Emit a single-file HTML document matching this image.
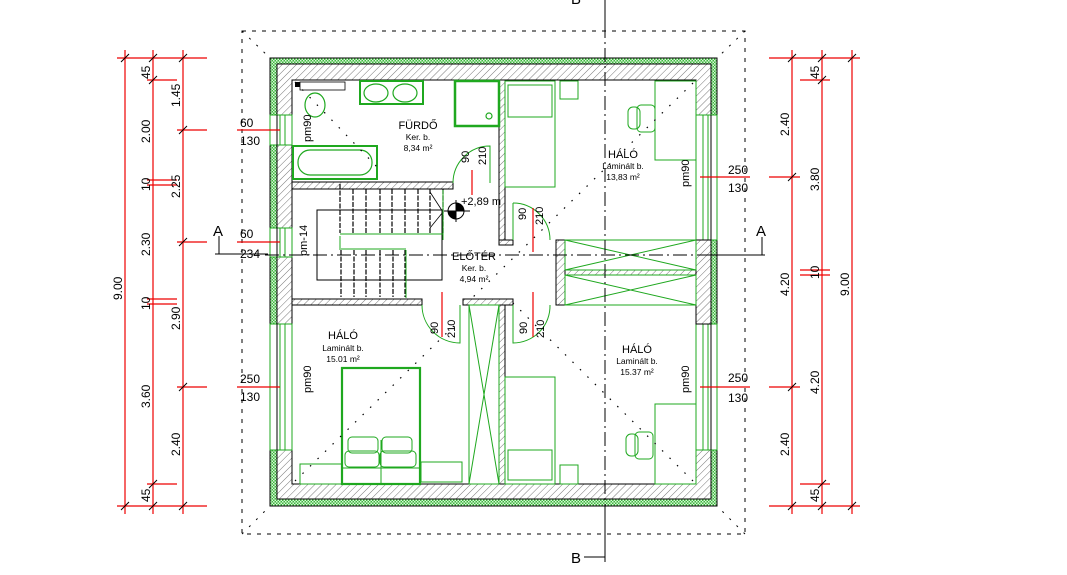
<!DOCTYPE html>
<html><head><meta charset="utf-8"><style>
html,body{margin:0;padding:0;background:#fff;}
svg{display:block;font-family:"Liberation Sans",sans-serif;}
</style></head><body>
<svg width="1067" height="575" viewBox="0 0 1067 575" xmlns="http://www.w3.org/2000/svg">
<defs>
<pattern id="h" width="5" height="5" patternUnits="userSpaceOnUse" patternTransform="rotate(45)">
<rect width="5" height="5" fill="#fff"/><line x1="0" y1="0" x2="0" y2="5" stroke="#555" stroke-width="0.8"/></pattern>
<pattern id="g" width="3" height="3" patternUnits="userSpaceOnUse">
<rect width="3" height="3" fill="#3cb83c"/><rect width="1.5" height="1.5" fill="#d8f5d8"/><rect x="1.5" y="1.5" width="1.5" height="1.5" fill="#d8f5d8"/></pattern>
</defs>

<rect x="242" y="31" width="503" height="503" fill="none" stroke="#000" stroke-width="1" stroke-dasharray="4,6"/>
<g stroke="#000" stroke-dasharray="2,8" stroke-width="1">
<line x1="242" y1="31" x2="270" y2="58"/><line x1="745" y1="31" x2="717" y2="58"/>
<line x1="242" y1="534" x2="270" y2="506"/><line x1="745" y1="534" x2="717" y2="506"/>
</g>

<rect x="270" y="58" width="447" height="448" fill="url(#g)" stroke="#000" stroke-width="1"/>
<rect x="277" y="64" width="434" height="435" fill="url(#h)" stroke="#000" stroke-width="1"/>
<rect x="292" y="80" width="404" height="404" fill="#fff" stroke="#000" stroke-width="1"/>

<g fill="#fff" stroke="#1fa81f" stroke-width="1">
<rect x="270" y="115" width="22" height="30"/><rect x="270" y="228" width="22" height="29"/><rect x="270" y="324" width="22" height="126"/>
<rect x="696" y="115" width="21" height="125"/><rect x="696" y="324" width="21" height="126"/>
</g>
<g stroke="#1fa81f" stroke-width="1">
<line x1="280" y1="115" x2="280" y2="145"/><line x1="285" y1="115" x2="285" y2="145"/>
<line x1="280" y1="228" x2="280" y2="257"/><line x1="285" y1="228" x2="285" y2="257"/>
<line x1="280" y1="324" x2="280" y2="450"/><line x1="285" y1="324" x2="285" y2="450"/>
<line x1="703" y1="115" x2="703" y2="240"/><line x1="708" y1="115" x2="708" y2="240"/>
<line x1="703" y1="324" x2="703" y2="450"/><line x1="708" y1="324" x2="708" y2="450"/>
</g>
<g stroke="#000" stroke-width="1"><line x1="277" y1="115" x2="277" y2="450"/><line x1="711" y1="115" x2="711" y2="450"/></g>

<g fill="url(#h)" stroke="#000" stroke-width="1">
<rect x="292" y="182" width="161" height="7"/>
<rect x="499" y="80" width="6" height="165"/>
<rect x="499" y="240" width="14" height="5"/>
<rect x="556" y="240" width="9" height="65"/>
<rect x="565" y="270" width="131" height="5"/>
<rect x="292" y="299" width="130" height="6"/>
<rect x="463" y="299" width="50" height="6"/>
<rect x="499" y="305" width="6" height="179"/>
<rect x="696" y="240" width="15" height="84"/>
</g>

<g fill="none" stroke="#1fa81f" stroke-width="1">
<rect x="565" y="240" width="131" height="30"/><line x1="565" y1="240" x2="696" y2="270"/><line x1="565" y1="270" x2="696" y2="240"/>
<rect x="565" y="275" width="131" height="30"/><line x1="565" y1="275" x2="696" y2="305"/><line x1="565" y1="305" x2="696" y2="275"/>
<rect x="469" y="305" width="30" height="179"/><line x1="469" y1="305" x2="499" y2="484"/><line x1="499" y1="305" x2="469" y2="484"/>
</g>

<g fill="none" stroke="#1fa81f" stroke-width="1.2">
<rect x="360" y="81" width="63" height="23" stroke-width="2"/>
<ellipse cx="376" cy="93" rx="12" ry="9"/><ellipse cx="405" cy="93" rx="12" ry="9"/>
<rect x="455" y="81" width="44" height="45" stroke-width="2.5"/>
<circle cx="489" cy="116" r="3"/>
<rect x="293" y="146" width="84" height="33" stroke-width="2"/>
<rect x="298" y="150" width="74" height="25" rx="12"/>
<ellipse cx="315" cy="105" rx="10" ry="12"/><rect x="300" y="82" width="45" height="8" stroke="#000" stroke-width="0.8"/>
</g>
<rect x="295" y="82" width="5" height="5" fill="#000"/>

<g stroke="#000" stroke-width="1.2" fill="none">
<rect x="317" y="210" width="125" height="70" stroke-width="1"/>
<g stroke-dasharray="5,1.5">
<line x1="340" y1="184" x2="340" y2="233"/><line x1="353" y1="189" x2="353" y2="233"/><line x1="366" y1="189" x2="366" y2="233"/>
<line x1="380" y1="189" x2="380" y2="233"/><line x1="392" y1="189" x2="392" y2="233"/><line x1="405" y1="189" x2="405" y2="233"/>
<line x1="418" y1="189" x2="418" y2="233"/><line x1="430" y1="189" x2="430" y2="233"/><line x1="443" y1="189" x2="443" y2="233"/>
<line x1="341" y1="250" x2="341" y2="297"/><line x1="354" y1="250" x2="354" y2="297"/><line x1="366" y1="250" x2="366" y2="297"/>
<line x1="380" y1="250" x2="380" y2="297"/><line x1="393" y1="250" x2="393" y2="297"/><line x1="405" y1="250" x2="405" y2="297"/>
</g>
<polyline points="430,192 443,212 430,228" stroke-width="0.8"/>
</g>
<g stroke="#1fa81f" stroke-width="1" fill="none">
<line x1="340" y1="234" x2="443" y2="234"/><line x1="341" y1="249" x2="406" y2="249"/>
<polyline points="340,236 340,250"/><polyline points="406,250 406,298"/><polyline points="443,190 443,240"/>
</g>

<circle cx="456" cy="211" r="8" fill="#fff" stroke="#000"/>
<path d="M456 203 A8 8 0 0 1 464 211 L456 211Z M456 211 L448 211 A8 8 0 0 0 456 219Z" fill="#000"/>
<line x1="444" y1="211" x2="470" y2="211" stroke="#000"/><line x1="456" y1="200" x2="456" y2="222" stroke="#000"/>
<text x="461" y="205" font-size="11">+2,89 m</text>

<g fill="none" stroke="#1fa81f" stroke-width="1">
<path d="M453 183 A37 37 0 0 1 490 146 L490 183"/>
<path d="M513 203 A37 37 0 0 1 550 240"/><line x1="513" y1="203" x2="513" y2="240"/>
<path d="M422 305 A38 38 0 0 0 460 343 L460 305"/>
<path d="M513 305 L513 343 A37 37 0 0 0 550 305"/>
</g>
<g stroke="#e00" stroke-width="1.2">
<line x1="472" y1="170" x2="472" y2="195"/><line x1="533" y1="208" x2="533" y2="252"/>
<line x1="442" y1="292" x2="442" y2="337"/><line x1="533" y1="292" x2="533" y2="337"/>
</g>

<g fill="none" stroke="#1fa81f" stroke-width="1">
<rect x="505" y="81" width="50" height="106"/><rect x="508" y="85" width="44" height="32"/>
<rect x="560" y="81" width="18" height="18"/>
<rect x="655" y="81" width="41" height="79"/>
<rect x="628" y="107" width="12" height="22" rx="5"/><rect x="637" y="105" width="18" height="27" rx="4"/>
<rect x="505" y="377" width="50" height="107"/><rect x="508" y="450" width="44" height="30"/>
<rect x="560" y="465" width="18" height="19"/>
<rect x="655" y="404" width="41" height="80"/>
<rect x="626" y="434" width="12" height="22" rx="5"/><rect x="635" y="432" width="18" height="27" rx="4"/>
<rect x="342" y="368" width="78" height="116" stroke-width="2.2"/>
<line x1="381" y1="440" x2="381" y2="484"/><line x1="342" y1="468" x2="420" y2="468"/>
<rect x="348" y="437" width="30" height="16" rx="4"/><rect x="382" y="437" width="30" height="16" rx="4"/>
<rect x="345" y="451" width="34" height="16" rx="4"/><rect x="380" y="451" width="36" height="16" rx="4"/>
<rect x="300" y="464" width="42" height="20"/><rect x="421" y="462" width="41" height="20"/>
</g>

<g stroke="#000" stroke-width="1.2" stroke-dasharray="1.5,9" fill="none">
<line x1="295" y1="82" x2="380" y2="170"/><line x1="693" y1="83" x2="470" y2="300"/>
<line x1="295" y1="481" x2="460" y2="320"/><line x1="693" y1="481" x2="510" y2="300"/>
</g>

<g stroke="#000" stroke-width="1">
<line x1="265" y1="255" x2="765" y2="255" stroke-dasharray="14,4,2,4"/>
<line x1="215" y1="254" x2="268" y2="254"/><line x1="219" y1="254" x2="219" y2="236"/>
<line x1="705" y1="255" x2="763" y2="255"/><line x1="762" y1="255" x2="762" y2="237"/>
<line x1="605" y1="0" x2="605" y2="505" stroke-dasharray="14,4,2,4"/>
<line x1="605" y1="0" x2="605" y2="25"/><line x1="605" y1="505" x2="605" y2="562"/><line x1="584" y1="557" x2="605" y2="557"/>
</g>
<text x="213" y="236" font-size="15">A</text><text x="756" y="236" font-size="15">A</text>
<text x="571" y="563" font-size="15">B</text><text x="571" y="4" font-size="15">B</text>

<g font-size="10" text-anchor="middle">
<text x="418" y="129" font-size="11">FÜRDŐ</text><text x="418" y="140" font-size="8.5">Ker. b.</text><text x="418" y="151" font-size="8.5">8,34 m²</text>
<text x="623" y="158" font-size="11">HÁLÓ</text><text x="623" y="169" font-size="8.5">Laminált b.</text><text x="623" y="180" font-size="8.5">13,83 m²</text>
<text x="474" y="260" font-size="11">ELŐTÉR</text><text x="474" y="271" font-size="8.5">Ker. b.</text><text x="474" y="282" font-size="8.5">4,94 m²</text>
<text x="343" y="339" font-size="11">HÁLÓ</text><text x="343" y="351" font-size="8.5">Laminált b.</text><text x="343" y="362" font-size="8.5">15.01 m²</text>
<text x="637" y="353" font-size="11">HÁLÓ</text><text x="637" y="364" font-size="8.5">Laminált b.</text><text x="637" y="375" font-size="8.5">15.37 m²</text>
</g>
<g font-size="11">
<text transform="translate(311,142) rotate(-90)">pm90</text>
<text transform="translate(307,256) rotate(-90)">pm-14</text>
<text transform="translate(311,393) rotate(-90)">pm90</text>
<text transform="translate(689,187) rotate(-90)">pm90</text>
<text transform="translate(689,393) rotate(-90)">pm90</text>
<text transform="translate(469,163) rotate(-90)">90</text><text transform="translate(486,165) rotate(-90)">210</text>
<text transform="translate(526,220) rotate(-90)">90</text><text transform="translate(543,225) rotate(-90)">210</text>
<text transform="translate(438,334) rotate(-90)">90</text><text transform="translate(455,338) rotate(-90)">210</text>
<text transform="translate(527,334) rotate(-90)">90</text><text transform="translate(544,338) rotate(-90)">210</text>
</g>

<g stroke="#e00" stroke-width="1.2">
<line x1="125" y1="50" x2="125" y2="514"/><line x1="153" y1="50" x2="153" y2="514"/><line x1="183" y1="50" x2="183" y2="514"/>
<line x1="117" y1="58" x2="207" y2="58"/><line x1="117" y1="506" x2="207" y2="506"/>
<line x1="147" y1="80" x2="177" y2="80"/><line x1="147" y1="180" x2="177" y2="180"/><line x1="147" y1="185" x2="177" y2="185"/>
<line x1="147" y1="299" x2="177" y2="299"/><line x1="147" y1="304" x2="177" y2="304"/><line x1="147" y1="484" x2="177" y2="484"/>
<line x1="177" y1="130" x2="207" y2="130"/><line x1="177" y1="242" x2="207" y2="242"/><line x1="177" y1="387" x2="207" y2="387"/>
<line x1="237" y1="130" x2="280" y2="130"/><line x1="237" y1="242" x2="280" y2="242"/><line x1="237" y1="387" x2="280" y2="387"/>
<line x1="792" y1="50" x2="792" y2="514"/><line x1="822" y1="50" x2="822" y2="514"/><line x1="852" y1="50" x2="852" y2="514"/>
<line x1="769" y1="58" x2="860" y2="58"/><line x1="769" y1="506" x2="860" y2="506"/>
<line x1="800" y1="80" x2="830" y2="80"/><line x1="800" y1="270" x2="830" y2="270"/><line x1="800" y1="275" x2="830" y2="275"/><line x1="800" y1="484" x2="830" y2="484"/>
<line x1="700" y1="177" x2="750" y2="177"/><line x1="769" y1="177" x2="800" y2="177"/>
<line x1="700" y1="387" x2="750" y2="387"/><line x1="769" y1="387" x2="800" y2="387"/>
</g>
<g stroke="#000" stroke-width="1">
<line x1="121" y1="62" x2="129" y2="54"/><line x1="149" y1="62" x2="157" y2="54"/><line x1="179" y1="62" x2="187" y2="54"/>
<line x1="121" y1="510" x2="129" y2="502"/><line x1="149" y1="510" x2="157" y2="502"/><line x1="179" y1="510" x2="187" y2="502"/>
<line x1="149" y1="84" x2="157" y2="76"/><line x1="149" y1="488" x2="157" y2="480"/>
<line x1="179" y1="134" x2="187" y2="126"/><line x1="179" y1="246" x2="187" y2="238"/><line x1="179" y1="391" x2="187" y2="383"/>
<line x1="788" y1="62" x2="796" y2="54"/><line x1="818" y1="62" x2="826" y2="54"/><line x1="848" y1="62" x2="856" y2="54"/>
<line x1="788" y1="510" x2="796" y2="502"/><line x1="818" y1="510" x2="826" y2="502"/><line x1="848" y1="510" x2="856" y2="502"/>
<line x1="788" y1="181" x2="796" y2="173"/><line x1="788" y1="391" x2="796" y2="383"/>
<line x1="818" y1="84" x2="826" y2="76"/><line x1="818" y1="488" x2="826" y2="480"/>
</g>
<g font-size="12">
<text transform="translate(122,300) rotate(-90)">9.00</text>
<text transform="translate(150,79) rotate(-90)">45</text>
<text transform="translate(150,143) rotate(-90)">2.00</text>
<text transform="translate(150,191) rotate(-90)">10</text>
<text transform="translate(150,256) rotate(-90)">2.30</text>
<text transform="translate(150,310) rotate(-90)">10</text>
<text transform="translate(150,408) rotate(-90)">3.60</text>
<text transform="translate(150,502) rotate(-90)">45</text>
<text transform="translate(180,107) rotate(-90)">1.45</text>
<text transform="translate(180,198) rotate(-90)">2.25</text>
<text transform="translate(180,330) rotate(-90)">2.90</text>
<text transform="translate(180,456) rotate(-90)">2.40</text>
<text transform="translate(789,136) rotate(-90)">2.40</text>
<text transform="translate(789,296) rotate(-90)">4.20</text>
<text transform="translate(789,456) rotate(-90)">2.40</text>
<text transform="translate(819,79) rotate(-90)">45</text>
<text transform="translate(819,191) rotate(-90)">3.80</text>
<text transform="translate(819,279) rotate(-90)">10</text>
<text transform="translate(819,394) rotate(-90)">4.20</text>
<text transform="translate(819,502) rotate(-90)">45</text>
<text transform="translate(849,296) rotate(-90)">9.00</text>
<text x="240" y="127">60</text><text x="240" y="145">130</text>
<text x="240" y="238">60</text><text x="240" y="258">234</text>
<text x="240" y="383">250</text><text x="240" y="401">130</text>
<text x="728" y="174">250</text><text x="728" y="192">130</text>
<text x="728" y="382">250</text><text x="728" y="402">130</text>
</g>
</svg>
</body></html>
